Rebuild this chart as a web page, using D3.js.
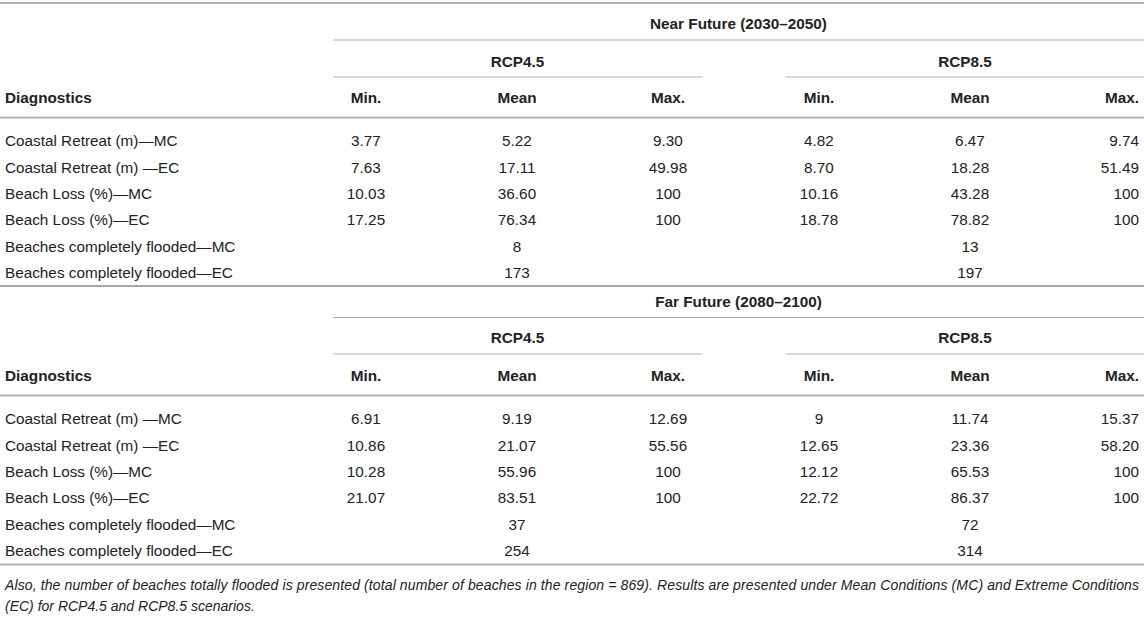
<!DOCTYPE html>
<html>
<head>
<meta charset="utf-8">
<script src="https://cdn.jsdelivr.net/npm/d3@7"></script>
<style>
  html, body { margin: 0; padding: 0; background: #fff; }
  svg { display: block; font-family: "Liberation Sans", Arial, Helvetica, sans-serif; }
</style>
</head>
<body>
<svg id="chart" width="1144" height="619"></svg>
<script>
// ---------- DATA ----------
const periods = ["Near Future (2030\u20132050)", "Far Future (2080\u20132100)"];
const scenarios = ["RCP4.5", "RCP8.5"];
const stats = ["Min.", "Mean", "Max."];
const stubHeader = "Diagnostics";

const nearRows = [
  "Coastal Retreat (m)\u2014MC",
  "Coastal Retreat (m) \u2014EC",
  "Beach Loss (%)\u2014MC",
  "Beach Loss (%)\u2014EC",
  "Beaches completely flooded\u2014MC",
  "Beaches completely flooded\u2014EC"
];
const farRows = [
  "Coastal Retreat (m) \u2014MC",
  "Coastal Retreat (m) \u2014EC",
  "Beach Loss (%)\u2014MC",
  "Beach Loss (%)\u2014EC",
  "Beaches completely flooded\u2014MC",
  "Beaches completely flooded\u2014EC"
];

// Near future
const nearRcp45Min  = ["3.77", "7.63", "10.03", "17.25", "", ""];
const nearRcp45Mean = ["5.22", "17.11", "36.60", "76.34", "8", "173"];
const nearRcp45Max  = ["9.30", "49.98", "100", "100", "", ""];
const nearRcp85Min  = ["4.82", "8.70", "10.16", "18.78", "", ""];
const nearRcp85Mean = ["6.47", "18.28", "43.28", "78.82", "13", "197"];
const nearRcp85Max  = ["9.74", "51.49", "100", "100", "", ""];
// Far future
const farRcp45Min  = ["6.91", "10.86", "10.28", "21.07", "", ""];
const farRcp45Mean = ["9.19", "21.07", "55.96", "83.51", "37", "254"];
const farRcp45Max  = ["12.69", "55.56", "100", "100", "", ""];
const farRcp85Min  = ["9", "12.65", "12.12", "22.72", "", ""];
const farRcp85Mean = ["11.74", "23.36", "65.53", "86.37", "72", "314"];
const farRcp85Max  = ["15.37", "58.20", "100", "100", "", ""];

const captionLines = [
  "Also, the number of beaches totally flooded is presented (total number of beaches in the region = 869). Results are presented under Mean Conditions (MC) and Extreme Conditions",
  "(EC) for RCP4.5 and RCP8.5 scenarios."
];

// ---------- LAYOUT ----------
const svg = d3.select("#chart");
const W = 1144;
const textColor = "#222";
const fs = 15.3;

const colKeys = d3.range(6);
const xCol = d3.scalePoint().domain(colKeys).range([366, 1121]);
const lastColRight = 1139;
const groupX = d3.scaleOrdinal().domain(scenarios).range([[333, 702], [786, W]]);
const periodSpan = [333, W];
const rowY = d3.scalePoint().domain(d3.range(6)).range([0, 132]);

const sections = [
  { period: periods[0], rows: nearRows,
    cols: [nearRcp45Min, nearRcp45Mean, nearRcp45Max, nearRcp85Min, nearRcp85Mean, nearRcp85Max],
    top: 3, titleY: 23, line1: 40, scenY: 61, line2: 77, headY: 97.5, thick: 117.5, row0: 140.7, bottom: 286 },
  { period: periods[1], rows: farRows,
    cols: [farRcp45Min, farRcp45Mean, farRcp45Max, farRcp85Min, farRcp85Mean, farRcp85Max],
    top: 286, titleY: 301, line1: 317.5, scenY: 337, line2: 354, headY: 375, thick: 395.5, row0: 418.8, bottom: 564.5 }
];

function hline(y, x1, x2, color, w) {
  svg.append("line").attr("x1", x1).attr("x2", x2).attr("y1", y).attr("y2", y)
    .attr("stroke", color).attr("stroke-width", w);
}
function txt(x, y, s, opts = {}) {
  return svg.append("text").attr("x", x).attr("y", y)
    .attr("dominant-baseline", "central")
    .attr("text-anchor", opts.anchor || "start")
    .attr("font-size", opts.size || fs)
    .attr("font-weight", opts.bold ? "bold" : "normal")
    .attr("font-style", opts.italic ? "italic" : "normal")
    .attr("fill", textColor)
    .text(s);
}

// top rule
hline(3, 0, W, "#b4b4b4", 2);

sections.forEach((sec, si) => {
  if (si === 1) hline(sec.top, 0, W, "#8a8a8a", 1.5);
  // period title
  txt((periodSpan[0] + periodSpan[1]) / 2, sec.titleY, sec.period, { anchor: "middle", bold: true });
  hline(sec.line1, periodSpan[0], periodSpan[1], "#b0b0b0", 1);
  // scenario titles
  scenarios.forEach(s => {
    const [a, b] = groupX(s);
    txt((a + b) / 2, sec.scenY, s, { anchor: "middle", bold: true });
    hline(sec.line2, a, b, "#b0b0b0", 1);
  });
  // column headers
  txt(5, sec.headY, stubHeader, { bold: true });
  colKeys.forEach(k => {
    const last = k === 5;
    txt(last ? lastColRight : xCol(k), sec.headY, stats[k % 3], { anchor: last ? "end" : "middle", bold: true });
  });
  hline(sec.thick, 0, W, "#b4b4b4", 2);
  // body
  const g = svg.append("g").attr("transform", `translate(0,${sec.row0})`);
  g.selectAll("text.stub").data(sec.rows).join("text")
    .attr("class", "stub")
    .attr("x", 5).attr("y", (d, i) => rowY(i))
    .attr("dominant-baseline", "central")
    .attr("font-size", fs).attr("fill", textColor)
    .text(d => d);
  sec.cols.forEach((col, k) => {
    const last = k === 5;
    g.selectAll(`text.c${k}`).data(col).join("text")
      .attr("class", `c${k}`)
      .attr("x", last ? lastColRight : xCol(k))
      .attr("y", (d, i) => rowY(i))
      .attr("dominant-baseline", "central")
      .attr("text-anchor", last ? "end" : "middle")
      .attr("font-size", fs).attr("fill", textColor)
      .text(d => d);
  });
});

// bottom rule
hline(564.5, 0, W, "#b4b4b4", 2);

// caption
txt(5, 585, captionLines[0], { italic: true, size: 14 })
  .attr("textLength", 1134).attr("lengthAdjust", "spacing");
txt(5, 606, captionLines[1], { italic: true, size: 14 });
</script>
</body>
</html>
